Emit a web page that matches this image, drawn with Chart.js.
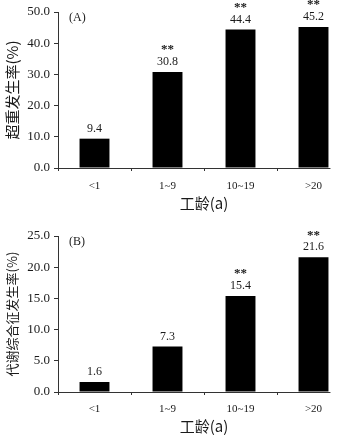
<!DOCTYPE html>
<html>
<head>
<meta charset="utf-8">
<script src="https://cdn.jsdelivr.net/npm/chart.js@4"></script>
<style>
  body { margin: 0; background: #fff; }
  .box { position: relative; width: 351px; }
</style>
</head>
<body>
<div class="box" style="height:215px"><canvas id="chartA"></canvas></div>
<div class="box" style="height:220px"><canvas id="chartB"></canvas></div>
<script>
const workYears = ["<1", "1~9", "10~19", ">20"];
const overweightRate = [9.4, 30.8, 44.4, 45.2];
const overweightStars = ["", "**", "**", "**"];
const metabolicRate = [1.6, 7.3, 15.4, 21.6];
const metabolicStars = ["", "", "**", "**"];

const serif = "'Liberation Serif', 'DejaVu Serif', serif";
const cjk = "'Noto Sans CJK SC', 'Noto Sans', sans-serif";

// value labels, stars, panel tag and a short x axis line
const labelPlugin = {
  id: "labels",
  afterDatasetsDraw(chart, args, opts) {
    const ctx = chart.ctx;
    const xs = chart.scales.x;
    const ys = chart.scales.y;
    const bars = chart.getDatasetMeta(0).data;
    const values = chart.data.datasets[0].data;
    ctx.save();
    ctx.fillStyle = "#1a1a1a";
    ctx.textAlign = "center";
    ctx.textBaseline = "middle";
    values.forEach((v, i) => {
      const x = xs.getPixelForValue(i);
      const y = ys.getPixelForValue(v);
      ctx.font = "12px " + serif;
      ctx.fillText(v.toFixed(1), x, y - 10);
      if (opts.stars[i]) {
        ctx.font = "bold 13px " + serif;
        ctx.fillText(opts.stars[i], x, y - 22);
      }
    });
    ctx.font = "12px " + serif;
    ctx.textAlign = "left";
    ctx.fillText(opts.tag, chart.chartArea.left + 11, chart.chartArea.top + 6);
    // x axis line up to the right edge of the last bar
    const last = bars[bars.length - 1];
    ctx.strokeStyle = "#333";
    ctx.lineWidth = 1;
    ctx.beginPath();
    ctx.moveTo(chart.chartArea.left, chart.chartArea.bottom + 0.5);
    ctx.lineTo(last.x + last.width / 2 + 2, chart.chartArea.bottom + 0.5);
    ctx.stroke();
    ctx.restore();
  }
};

function makeChart(id, values, stars, tag, yMax, yStep, yTitle, titleSize, pad, xHeight, tickPad) {
  const data = {
    labels: workYears,
    datasets: [
      {
        data: values,
        backgroundColor: "#000",
        borderWidth: 0,
        barPercentage: 0.41,
        categoryPercentage: 1,
      },
    ],
  };

  const config = {
    type: "bar",
    data: data,
    plugins: [labelPlugin],
    options: {
      responsive: true,
      maintainAspectRatio: false,
      animation: false,
      layout: { padding: pad },
      plugins: {
        legend: { display: false },
        tooltip: { enabled: false },
        labels: { stars: stars, tag: tag },
      },
      scales: {
        x: {
          border: { display: false },
          grid: {
            drawOnChartArea: false,
            tickLength: 3,
            color: (c) => (c.type === "tick" ? "#333" : "rgba(0,0,0,0)"),
          },
          ticks: { color: "#1a1a1a", padding: tickPad, font: { family: serif, size: 11 } },
          title: {
            display: true,
            text: "工龄(a)",
            color: "#1a1a1a",
            font: { family: cjk, size: 15 },
            padding: 0,
          },
          afterFit: (scale) => { scale.height = xHeight; },
        },
        y: {
          min: 0,
          max: yMax,
          border: { display: true, color: "#333", width: 1 },
          grid: { drawOnChartArea: false, tickLength: 4, color: "#333" },
          ticks: {
            stepSize: yStep,
            color: "#1a1a1a",
            padding: 4,
            font: { family: serif, size: 13 },
            callback: (v) => v.toFixed(1),
          },
          title: {
            display: true,
            text: yTitle,
            color: "#1a1a1a",
            font: { family: cjk, size: titleSize },
            padding: 0,
          },
          afterFit: (scale) => { scale.width = 58 - pad.left; },
        },
      },
    },
  };

  new Chart(document.getElementById(id), config);
}

document.addEventListener("DOMContentLoaded", () => {
  makeChart("chartA", overweightRate, overweightStars, "(A)", 50, 10,
    "超重发生率(%)", 15, { left: 3, right: 1, top: 12, bottom: 3 }, 44, 9);
  makeChart("chartB", metabolicRate, metabolicStars, "(B)", 25, 5,
    "代谢综合征发生率(%)", 13, { left: 4, right: 1, top: 21, bottom: 0 }, 43, 8);
});
</script>
</body>
</html>
